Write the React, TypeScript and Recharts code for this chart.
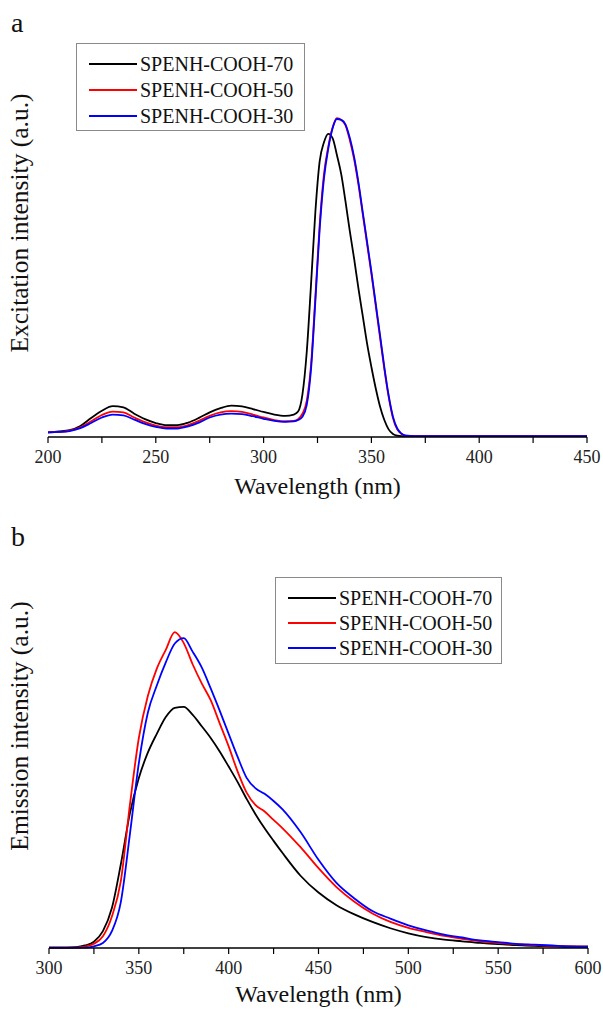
import { LineChart, Line, XAxis, YAxis } from 'recharts';

// panel a: excitation spectra
const excitationWavelength = [
  200, 205, 210, 215, 220, 225, 230, 235, 240, 245, 250, 255, 260, 265, 270, 275, 280, 285, 290, 295,
  300, 305, 310, 314, 316, 318, 320, 322, 324, 326, 328, 330, 332, 334, 336, 338, 340, 342, 344, 346,
  348, 350, 352, 354, 356, 358, 360, 362, 364, 366, 370, 380, 400, 450,
];
const excitation70 = [
  0.011, 0.013, 0.016, 0.026, 0.045, 0.062, 0.073, 0.07, 0.055, 0.042, 0.033, 0.028, 0.028, 0.034, 0.045, 0.058, 0.068, 0.074, 0.072, 0.066,
  0.059, 0.053, 0.05, 0.053, 0.06, 0.1, 0.2, 0.36, 0.53, 0.65, 0.695, 0.715, 0.705, 0.665, 0.62, 0.555, 0.485, 0.42, 0.35, 0.285,
  0.22, 0.165, 0.115, 0.072, 0.04, 0.018, 0.007, 0.003, 0.002, 0.002, 0.002, 0.002, 0.002, 0.002,
];
const excitation50 = [
  0.011, 0.012, 0.015, 0.023, 0.037, 0.052, 0.06, 0.058, 0.046, 0.035, 0.027, 0.023, 0.023, 0.028, 0.038, 0.05, 0.058, 0.061, 0.059, 0.053,
  0.046, 0.04, 0.037, 0.038, 0.042, 0.055, 0.085, 0.17, 0.33, 0.5, 0.62, 0.685, 0.73, 0.752, 0.748, 0.735, 0.7, 0.655, 0.595, 0.525,
  0.455, 0.385, 0.31, 0.235, 0.16, 0.095, 0.045, 0.018, 0.007, 0.003, 0.002, 0.002, 0.002, 0.002,
];
const excitation30 = [
  0.011, 0.012, 0.014, 0.021, 0.033, 0.046, 0.053, 0.051, 0.041, 0.031, 0.024, 0.02, 0.02, 0.025, 0.034, 0.046, 0.053, 0.055, 0.054, 0.049,
  0.043, 0.038, 0.036, 0.037, 0.04, 0.048, 0.075, 0.16, 0.32, 0.49, 0.61, 0.68, 0.728, 0.75, 0.748, 0.737, 0.705, 0.66, 0.6, 0.53,
  0.46, 0.39, 0.315, 0.24, 0.165, 0.098, 0.048, 0.02, 0.008, 0.003, 0.002, 0.002, 0.002, 0.002,
];

// panel b: emission spectra
const emissionWavelength = [
  300, 310, 315, 320, 325, 330, 335, 340, 345, 350, 355, 360, 365, 370, 375, 380, 385, 390, 395, 400,
  405, 410, 415, 420, 425, 430, 440, 450, 460, 470, 480, 490, 500, 510, 520, 530, 540, 550, 560, 570,
  580, 590, 600,
];
const emission70 = [
  0.001, 0.001, 0.002, 0.006, 0.015, 0.04, 0.095, 0.2, 0.32, 0.405, 0.465, 0.51, 0.55, 0.572, 0.574, 0.555, 0.528, 0.5, 0.468, 0.432,
  0.395, 0.355, 0.318, 0.285, 0.255, 0.226, 0.172, 0.132, 0.102, 0.08, 0.062, 0.047, 0.035, 0.026, 0.02, 0.016, 0.012, 0.009, 0.007, 0.005,
  0.004, 0.003, 0.003,
];
const emission50 = [
  0.001, 0.001, 0.001, 0.003, 0.01, 0.028, 0.075, 0.16, 0.34, 0.5, 0.6, 0.665, 0.71, 0.752, 0.726, 0.675, 0.63, 0.59, 0.535, 0.48,
  0.42, 0.37, 0.34, 0.325, 0.305, 0.285, 0.24, 0.19, 0.145, 0.11, 0.082, 0.062, 0.048, 0.038, 0.029, 0.022, 0.016, 0.012, 0.009, 0.007,
  0.005, 0.004, 0.003,
];
const emission30 = [
  0.001, 0.001, 0.001, 0.001, 0.004, 0.012, 0.04, 0.11, 0.27, 0.44, 0.56, 0.625, 0.68, 0.725, 0.738, 0.705, 0.668, 0.618, 0.565, 0.51,
  0.455, 0.405, 0.38, 0.367, 0.35, 0.33, 0.276, 0.21, 0.155, 0.118, 0.088, 0.07, 0.054, 0.042, 0.032, 0.025, 0.018, 0.014, 0.01, 0.008,
  0.006, 0.004, 0.003,
];

const excitationTicks = [200, 225, 250, 275, 300, 325, 350, 375, 400, 425, 450];
const emissionTicks = [300, 325, 350, 375, 400, 425, 450, 475, 500, 525, 550, 575, 600];

const seriesNames = ['SPENH-COOH-70', 'SPENH-COOH-50', 'SPENH-COOH-30'];
const seriesKeys = ['s70', 's50', 's30'];
const seriesColors = ['#000000', '#ff0000', '#0000ff'];

const FONT = '"Liberation Serif", "Times New Roman", serif';

type Row = { w: number; s70: number; s50: number; s30: number };

function buildRows(w: number[], a: number[], b: number[], c: number[]): Row[] {
  return w.map((x, i) => ({ w: x, s70: a[i], s50: b[i], s30: c[i] }));
}

interface LegendPos {
  left: number;
  top: number;
  width: number;
  rowHeight: number;
  padTop: number;
  padBottom: number;
}

interface PanelProps {
  data: Row[];
  ticks: number[];
  top: number;
  margin: { top: number; right: number; bottom: number; left: number };
  axisHeight: number;
  letter: string;
  letterTop: number;
  yTitle: string;
  yTitleCenter: number;
  legend: LegendPos;
}

function LegendBox({ left, top, width, rowHeight, padTop, padBottom }: LegendPos) {
  return (
    <div
      style={{
        position: 'absolute',
        left,
        top,
        width,
        boxSizing: 'border-box',
        border: '1px solid #8a8a8a',
        paddingTop: padTop,
        paddingBottom: padBottom,
        background: '#fff',
        fontFamily: FONT,
        fontSize: 20,
        color: '#111',
      }}
    >
      {seriesNames.map((name, i) => (
        <div key={name} style={{ display: 'flex', alignItems: 'center', height: rowHeight }}>
          <span style={{ display: 'inline-block', width: 48, height: 2, marginLeft: 12, marginRight: 3, background: seriesColors[i] }} />
          <span style={{ lineHeight: 1 }}>{name}</span>
        </div>
      ))}
    </div>
  );
}

function Panel({ data, ticks, top, margin, axisHeight, letter, letterTop, yTitle, yTitleCenter, legend }: PanelProps) {
  const domain: [number, number] = [ticks[0], ticks[ticks.length - 1]];
  return (
    <>
      <div style={{ position: 'absolute', left: 0, top }}>
        <LineChart width={603} height={505} data={data} margin={margin}>
          <XAxis
            dataKey="w"
            type="number"
            domain={domain}
            ticks={ticks}
            interval={0}
            allowDataOverflow
            height={axisHeight}
            tickSize={6}
            tickMargin={7}
            tickFormatter={(v: number) => (v % 50 === 0 ? String(v) : '')}
            axisLine={{ stroke: '#000', strokeWidth: 1.5 }}
            tickLine={{ stroke: '#000', strokeWidth: 1.2 }}
            tick={{ fontFamily: FONT, fontSize: 18, fill: '#222' }}
            label={{
              value: 'Wavelength (nm)',
              position: 'insideBottom',
              offset: 0,
              style: { fontFamily: FONT, fontSize: 24, fill: '#111' },
            }}
          />
          <XAxis
            xAxisId="top"
            dataKey="w"
            type="number"
            orientation="top"
            domain={domain}
            height={0}
            tick={false}
            tickLine={false}
            axisLine={{ stroke: '#000', strokeWidth: 1.5 }}
          />
          <YAxis domain={[0, 1]} width={0} tick={false} tickLine={false} axisLine={{ stroke: '#000', strokeWidth: 1.5 }} />
          <YAxis
            yAxisId="right"
            orientation="right"
            domain={[0, 1]}
            width={0}
            tick={false}
            tickLine={false}
            axisLine={{ stroke: '#000', strokeWidth: 1.5 }}
          />
          {seriesKeys.map((k, i) => (
            <Line
              key={k}
              dataKey={k}
              name={seriesNames[i]}
              type="monotone"
              stroke={seriesColors[i]}
              strokeWidth={1.8}
              dot={false}
              isAnimationActive={false}
            />
          ))}
        </LineChart>
      </div>
      <div style={{ position: 'absolute', left: 11, top: letterTop, fontFamily: FONT, fontSize: 28, lineHeight: 1, color: '#111' }}>
        {letter}
      </div>
      <div
        style={{
          position: 'absolute',
          left: 20,
          top: yTitleCenter,
          transform: 'translate(-50%, -50%) rotate(-90deg)',
          whiteSpace: 'nowrap',
          fontFamily: FONT,
          fontSize: 25.5,
          lineHeight: 1,
          color: '#111',
        }}
      >
        {yTitle}
      </div>
      <LegendBox {...legend} />
    </>
  );
}

export default function App() {
  const excitationData = buildRows(excitationWavelength, excitation70, excitation50, excitation30);
  const emissionData = buildRows(emissionWavelength, emission70, emission50, emission30);

  return (
    <div style={{ position: 'absolute', left: 0, top: 0, width: 603, height: 1010, background: '#fff', overflow: 'hidden' }}>
      <Panel
        data={excitationData}
        ticks={excitationTicks}
        top={0}
        margin={{ top: 13, right: 16, bottom: 11, left: 48 }}
        axisHeight={57}
        letter="a"
        letterTop={9}
        yTitle="Excitation intensity (a.u.)"
        yTitleCenter={223}
        legend={{ left: 76, top: 43, width: 229, rowHeight: 26, padTop: 7, padBottom: 1 }}
      />
      <Panel
        data={emissionData}
        ticks={emissionTicks}
        top={505}
        margin={{ top: 23, right: 15, bottom: 8, left: 49 }}
        axisHeight={54}
        letter="b"
        letterTop={523}
        yTitle="Emission intensity (a.u.)"
        yTitleCenter={726}
        legend={{ left: 275, top: 577, width: 227, rowHeight: 25, padTop: 7, padBottom: 3 }}
      />
    </div>
  );
}
